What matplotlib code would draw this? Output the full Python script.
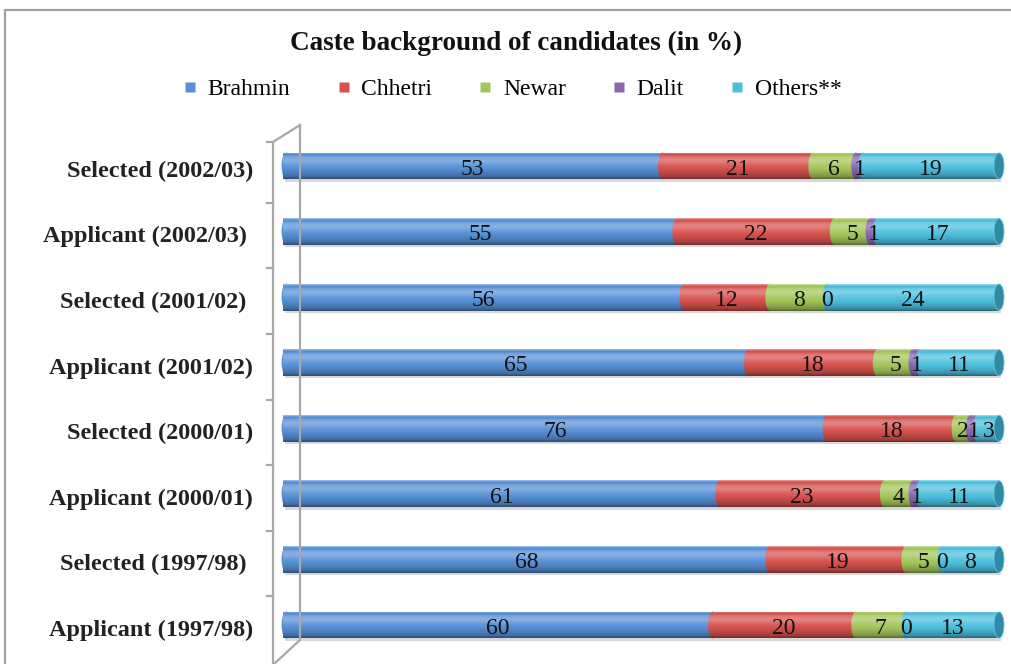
import numpy as np
import matplotlib
matplotlib.use("Agg")
import matplotlib.pyplot as plt
from matplotlib.patches import Rectangle, Ellipse
from matplotlib.lines import Line2D

# ---------------- data ----------------
categories = ["Applicant (1997/98)", "Selected (1997/98) ", "Applicant (2000/01)",
              "Selected (2000/01)", "Applicant (2001/02)", "Selected (2001/02) ",
              "Applicant (2002/03) ", "Selected (2002/03)"]
series_names = ["Brahmin", "Chhetri", "Newar", "Dalit", "Others**"]
brahmin = [60, 68, 61, 76, 65, 56, 55, 53]
chhetri = [20, 19, 23, 18, 18, 12, 22, 21]
newar   = [7, 5, 4, 2, 5, 8, 5, 6]
dalit   = [0, 0, 1, 1, 1, 0, 1, 1]
others  = [13, 8, 11, 3, 11, 24, 17, 19]
title = "Caste background of candidates (in %)"

colors = ["#5790D6", "#D6524E", "#A4C65A", "#8A66B0", "#4DBFDD"]
cap_color = "#2E8AA6"

W, H = 1011, 664
fig = plt.figure(figsize=(W / 100, H / 100), dpi=100)
fig.patch.set_facecolor("white")

serif = ["Liberation Serif", "DejaVu Serif"]

# outer chart frame (cut at right/bottom)
fig.add_artist(Rectangle((5 / W, -0.05), 1.2, 1 - 10 / H + 0.05, transform=fig.transFigure,
                         fill=False, edgecolor="#A0A0A0", linewidth=1.6))

# axes placement (pixels)
x0, x1 = 283, 999
top_c, bot_c = 166, 625
step = (bot_c - top_c) / 7
ax_top = top_c - step / 2
ax_bot = bot_c + step / 2
ax = fig.add_axes([x0 / W, (H - ax_bot) / H, (x1 - x0) / W, (ax_bot - ax_top) / H])
ax.set_xlim(0, 100)
ax.set_ylim(-0.5, 7.5)
ax.axis("off")

y = np.arange(len(categories))
bar_h = 0.41
data = [brahmin, chhetri, newar, dalit, others]
cap_w = 1.4

# vertical shading gradient (cylinder look); row 0 = top
n = 80
t = np.linspace(0, 1, n)
white_a = 0.28 * np.exp(-((t - 0.30) / 0.18) ** 2) + 0.40 * np.exp(-(t / 0.05) ** 2)
black_a = (0.36 * np.clip((t - 0.55) / 0.45, 0, 1) ** 1.5
           + 0.12 * np.exp(-((t - 0.09) / 0.04) ** 2)
           + 0.12 * np.exp(-((t - 1.0) / 0.05) ** 2))
grad = np.zeros((n, 1, 4))
for i in range(n):
    if white_a[i] >= black_a[i]:
        grad[i, 0] = [1, 1, 1, white_a[i] - black_a[i]]
    else:
        grad[i, 0] = [0, 0, 0, black_a[i] - white_a[i]]

left = np.zeros(len(categories))
for k, vals in enumerate(data):
    ax.barh(y, vals, left=left, height=bar_h, color=colors[k], edgecolor="none",
            zorder=2, label=series_names[k])
    if k > 0:
        for yi, l, v in zip(y, left, vals):
            if v > 0:
                ax.add_patch(Ellipse((l, yi), cap_w * 0.9, bar_h, facecolor=colors[k],
                                     edgecolor="none", zorder=2.2 + 0.01 * k))
    left = left + np.array(vals)
totals = left

# caps, soft shadow and shading per row
for yi, total in zip(y, totals):
    ax.add_patch(Rectangle((0.3, yi - bar_h / 2 - 0.035), total, 0.035, facecolor="#D8D8D8",
                           edgecolor="none", zorder=1.2, clip_on=False))
    clip = Rectangle((0, yi - bar_h / 2), total, bar_h,
                     transform=ax.transData, facecolor="none", edgecolor="none")
    ax.add_patch(clip)
    clip.set_clip_on(False)
    im = ax.imshow(grad, extent=(-0.5, total, yi - bar_h / 2, yi + bar_h / 2),
                   aspect="auto", origin="upper", zorder=3, interpolation="bilinear")
    im.set_clip_path(clip)
    # rounded left end with its own shading
    lcap = Ellipse((0.5, yi), cap_w, bar_h, facecolor=colors[0], edgecolor="none",
                   zorder=3.2, clip_on=False)
    ax.add_patch(lcap)
    im2 = ax.imshow(grad, extent=(-0.5, 2, yi - bar_h / 2, yi + bar_h / 2),
                    aspect="auto", origin="upper", zorder=3.3, interpolation="bilinear")
    im2.set_clip_path(lcap)
    ax.add_patch(Ellipse((total, yi), cap_w, bar_h * 0.97, facecolor=cap_color,
                         edgecolor="#6cc3dc", linewidth=0.6, zorder=4, clip_on=False))
ax.set_xlim(0, 100)
ax.set_ylim(-0.5, 7.5)

# value labels
left = np.zeros(len(categories))
for k, vals in enumerate(data):
    for yi, l, v in zip(y, left, vals):
        ax.text(l + v / 2, yi - 0.05, f"{v}", ha="center", va="center", fontsize=17,
                family=serif, color="#111111", zorder=6)
    left = left + np.array(vals)

# category labels
for yi, c in zip(y, categories):
    ax.text(-4.2, yi - 0.08, c, ha="right", va="center", fontsize=17.5, fontweight="bold",
            family=serif, color="#222222", transform=ax.transData, clip_on=False)

# 3D wall lines
def fpt(px, py):
    return (px / W, 1 - py / H)

wall = "#A8A8A8"
for (a, b) in [((273, 142), (273, 664)), ((300, 125), (300, 640)),
               ((273, 142), (300, 125)), ((300, 640), (275, 663)), ((267, 142), (273, 142))]:
    p, q = fpt(*a), fpt(*b)
    fig.add_artist(Line2D([p[0], q[0]], [p[1], q[1]], transform=fig.transFigure,
                          color=wall, linewidth=1.6, zorder=0.5))
for yb in np.arange(len(categories) - 1) + 0.5:
    disp = ax.transData.transform((0, yb))
    py = H - disp[1] + 4
    p, q = fpt(267, py), fpt(273, py)
    fig.add_artist(Line2D([p[0], q[0]], [p[1], q[1]], transform=fig.transFigure,
                          color=wall, linewidth=1.6, zorder=0.5))

# title
fig.text(516 / W, 1 - 43 / H, title, ha="center", va="center", fontsize=19.5,
         fontweight="bold", family=serif, color="#111111")

# legend
handles = [Line2D([], [], marker="s", linestyle="none", markersize=7, markerfacecolor=c,
                  markeredgecolor="none") for c in colors]
fig.legend(handles, series_names, loc="center", bbox_to_anchor=(513 / W, 1 - 89 / H), ncol=5,
           frameon=False, prop={"family": serif, "size": 17}, handlelength=0.5,
           handletextpad=0.5, columnspacing=2.0)

fig.savefig("out.png", dpi=100, facecolor="white")
